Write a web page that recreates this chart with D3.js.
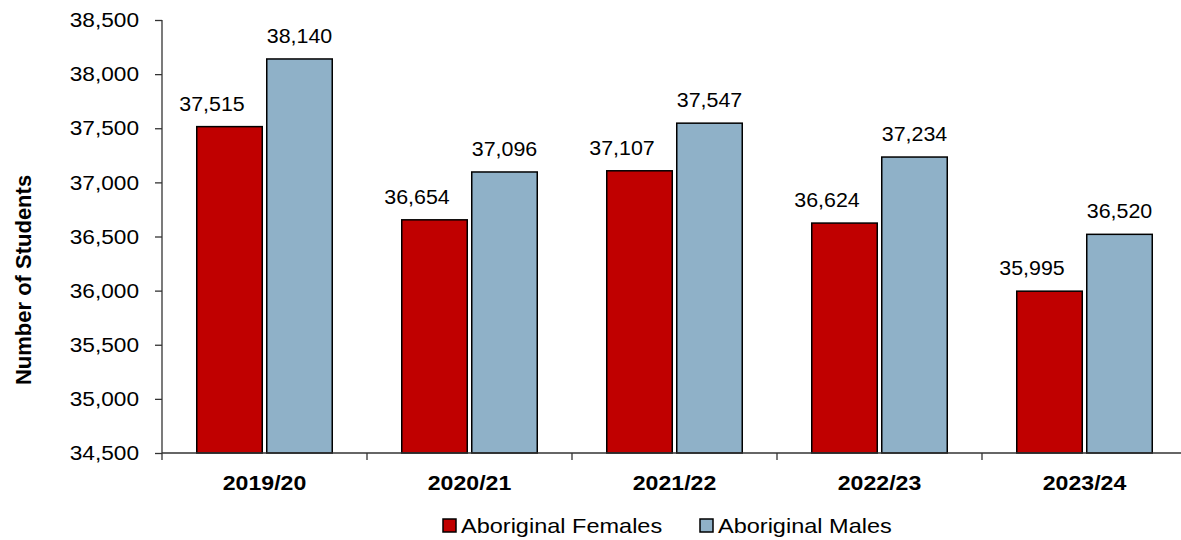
<!DOCTYPE html>
<html><head><meta charset="utf-8">
<script src="https://cdn.jsdelivr.net/npm/d3@7"></script>
<style>body{margin:0;background:#fff}svg{display:block;font-family:"Liberation Sans",Arial,sans-serif}</style>
</head><body><svg id="c" width="1181" height="540"></svg>
<script>
const categories = ["2019/20","2020/21","2021/22","2022/23","2023/24"];
const seriesNames = ["Aboriginal Females","Aboriginal Males"];
const females = [37515,36654,37107,36624,35995];
const males = [38140,37096,37547,37234,36520];
const yTicks = [34500,35000,35500,36000,36500,37000,37500,38000,38500];
const colors = ["#C00000","#8FB1C8"];

const svg = d3.select("#c");
const plotLeft = 162, plotTop = 20, plotBottom = 453, band = 205;
const x0 = d3.scaleBand().domain(categories).range([plotLeft, plotLeft + band*categories.length]).padding(0);
const x1 = d3.scaleBand().domain(seriesNames).range([34, 171]).paddingInner(0.0429);
const y = d3.scaleLinear().domain([34500,38500]).range([plotBottom, plotTop]);
const fmt = d3.format(",");
const data = categories.map((c,i)=>({cat:c, vals:[females[i], males[i]]}));

function stext(g, x, yy, txt, opts){
  const t = g.append("g").attr("transform",`translate(${x},${yy}) scale(${opts.sx||1},1)`)
    .append("text").text(txt).attr("font-size",opts.size).attr("text-anchor",opts.anchor||"middle")
    .attr("fill","#000");
  if(opts.bold) t.attr("font-weight","bold");
  if(opts.db) t.attr("dominant-baseline",opts.db);
  return t;
}

// bars
const groups = svg.append("g").selectAll("g").data(data).join("g")
  .attr("transform", d=>`translate(${x0(d.cat)},0)`);
groups.selectAll("rect").data(d=>d.vals.map((v,i)=>({v, s:seriesNames[i], i}))).join("rect")
  .attr("x", d=>x1(d.s)+0.75).attr("width", x1.bandwidth()-1.5)
  .attr("y", d=>y(d.v)).attr("height", d=>plotBottom - y(d.v))
  .attr("fill", d=>colors[d.i]).attr("stroke","#000").attr("stroke-width",1.5);

// value labels
const lab = svg.append("g");
data.forEach(d=>{
  d.vals.forEach((v,i)=>{
    const cx = x0(d.cat) + x1(seriesNames[i]) + x1.bandwidth()/2 + (i===0 ? -17.5 : 0);
    stext(lab, cx, y(v) - 16, fmt(v), {size:20, sx:1.07});
  });
});

// y axis
const ya = svg.append("g").attr("transform",`translate(${plotLeft},0)`)
  .call(d3.axisLeft(y).tickValues(yTicks).tickSize(7).tickFormat(()=>""));
ya.selectAll("path,line").attr("stroke","#333").attr("stroke-width",1.3);
ya.select(".domain").attr("d",`M0,${plotTop}V${plotBottom}`);
yTicks.forEach(t=>{ stext(svg, 139, y(t), fmt(t), {size:21, sx:1.08, anchor:"end", db:"central"}); });

// x axis
const xa = svg.append("g").attr("transform",`translate(0,${plotBottom})`)
  .call(d3.axisBottom(x0).tickSize(0).tickFormat(()=>""));
xa.select(".domain").attr("d",`M${plotLeft},0H1181`).attr("stroke","#333").attr("stroke-width",1.3);
const bounds = categories.map(c=>x0(c)).concat([x0(categories[categories.length-1])+band]);
svg.append("g").selectAll("line").data(bounds.filter(b=>b<1181)).join("line")
  .attr("x1",d=>d).attr("x2",d=>d).attr("y1",plotBottom).attr("y2",plotBottom+7)
  .attr("stroke","#333").attr("stroke-width",1.3);
categories.forEach(c=>{ stext(svg, x0(c)+band/2, 490, c, {size:21, sx:1.1, bold:true}); });

// y title
svg.append("text").attr("transform","translate(31,280) rotate(-90)")
  .attr("text-anchor","middle").attr("font-size",22).attr("font-weight","bold").text("Number of Students");

// legend
const legX = [443, 700];
seriesNames.forEach((s,i)=>{
  svg.append("rect").attr("x",legX[i]).attr("y",519).attr("width",13).attr("height",13)
    .attr("fill",colors[i]).attr("stroke","#000").attr("stroke-width",1.5);
  stext(svg, legX[i]+18, 533, s, {size:21, sx:1.12, anchor:"start"});
});
</script></body></html>
